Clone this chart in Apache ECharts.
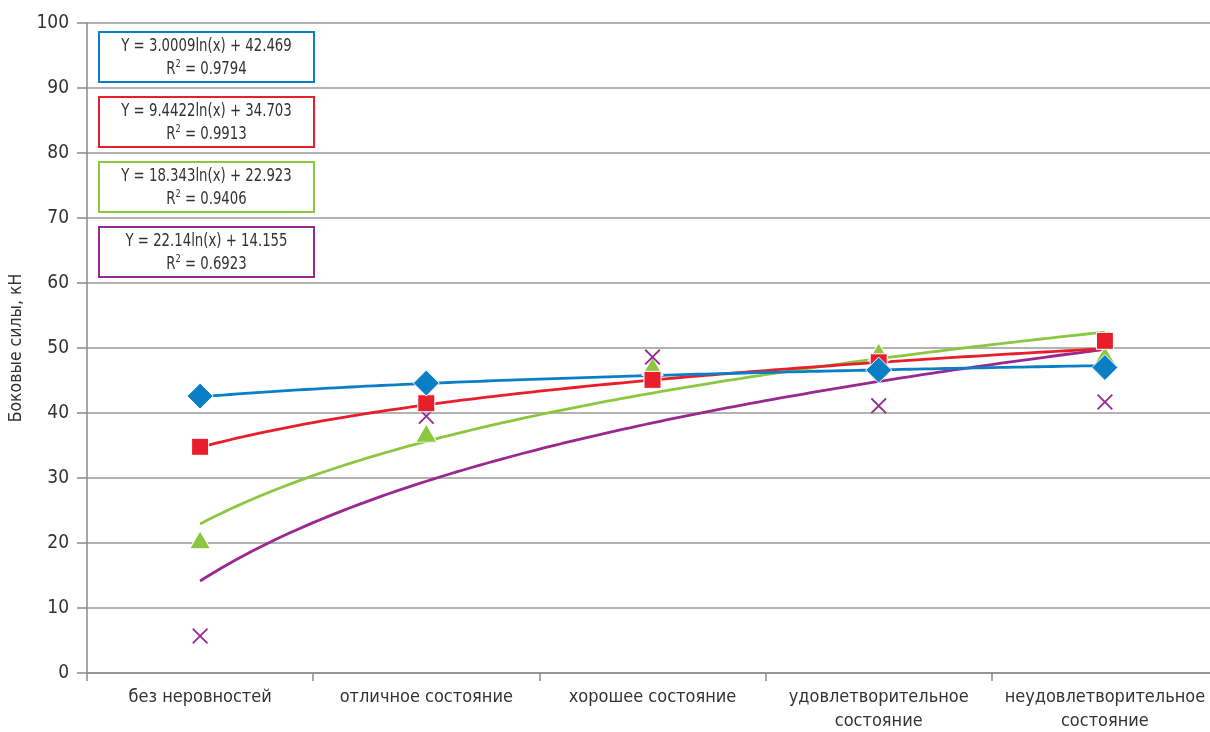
<!DOCTYPE html>
<html>
<head>
<meta charset="utf-8">
<script src="https://cdn.jsdelivr.net/npm/echarts@6/dist/echarts.min.js"></script>
<style>
  html, body { margin: 0; padding: 0; background: #fff; }
  #chart { width: 1210px; height: 732px; }
</style>
</head>
<body>
<div id="chart"></div>
<script>
// Road surface condition categories
const categories = [
  'без неровностей',
  'отличное состояние',
  'хорошее состояние',
  'удовлетворительное\nсостояние',
  'неудовлетворительное\nсостояние'
];

// Lateral forces, kN, for each of the four measured series
const blueValues = [42.6, 44.6, null, 46.6, 47.0];
const redValues = [34.8, 41.5, 45.1, 47.8, 51.1];
const greenValues = [20.5, 36.9, 47.2, 49.4, 48.9];
const purpleValues = [5.7, 39.5, 48.6, 41.1, 41.7];

// Logarithmic trend coefficients: y = a * ln(x) + b
const blueTrend = [3.0009, 42.469];
const redTrend = [9.4422, 34.703];
const greenTrend = [18.343, 22.923];
const purpleTrend = [22.14, 14.155];

// Coefficients of determination
const r2Values = ['0.9794', '0.9913', '0.9406', '0.6923'];

const yTicks = { min: 0, max: 100, interval: 10 };

const COLORS = {
  blue: '#0a7fc6',
  red: '#e81f2a',
  green: '#8dc641',
  purple: '#9a2891'
};
const FONT = '"DejaVu Sans Condensed", "Liberation Sans", sans-serif';

function trendCurve(coef) {
  const pts = [];
  const steps = 120;
  for (let i = 0; i <= steps; i++) {
    const x = 1 + (4 * i) / steps;
    pts.push([x, coef[0] * Math.log(x) + coef[1]]);
  }
  return pts;
}

function points(values) {
  return values.map((v, i) => (v == null ? [i + 1, '-'] : [i + 1, v]));
}

const crossPath = 'path://M0,1.6L1.6,0L10,8.4L18.4,0L20,1.6L11.6,10L20,18.4L18.4,20L10,11.6L1.6,20L0,18.4L8.4,10Z';

function trendSeries(coef, color, z) {
  return {
    type: 'line',
    xAxisIndex: 1,
    data: trendCurve(coef),
    showSymbol: false,
    symbol: 'none',
    lineStyle: { color: color, width: 2.8 },
    z: z,
    silent: true
  };
}

function pointSeries(values, color, symbol, size, z, border) {
  return {
    type: 'scatter',
    xAxisIndex: 1,
    data: points(values),
    symbol: symbol,
    symbolSize: size,
    itemStyle: { color: color, opacity: 1, borderColor: '#fff', borderWidth: border },
    z: z
  };
}

function equationBox(top, coef, r2, color) {
  const line1 = 'Y = ' + coef[0] + 'ln(x) + ' + coef[1];
  return {
    type: 'group',
    left: 98,
    top: top,
    children: [
      {
        type: 'rect',
        shape: { x: 0, y: 0, width: 215, height: 50 },
        style: { fill: '#fff', stroke: color, lineWidth: 2 }
      },
      {
        type: 'text',
        x: 107.5, y: 14,
        scaleX: 0.82,
        style: {
          text: line1, font: '18px ' + FONT, fill: '#333',
          textAlign: 'center', textVerticalAlign: 'middle'
        }
      },
      {
        type: 'text',
        x: 107.5, y: 37,
        scaleX: 0.82,
        style: {
          text: 'R{sup|2} = ' + r2,
          font: '18px ' + FONT, fill: '#333',
          textAlign: 'center', textVerticalAlign: 'middle',
          rich: {
            sup: { fontSize: 11, verticalAlign: 'top', padding: [0, 0, 9, 0], fontFamily: FONT, fill: '#333' }
          }
        }
      }
    ]
  };
}

const chart = echarts.init(document.getElementById('chart'), null, { renderer: 'canvas' });

chart.setOption({
  animation: false,
  backgroundColor: '#fff',
  grid: { left: 87, right: -8, top: 23, bottom: 59, containLabel: false, outerBoundsMode: 'none' },
  xAxis: [
    {
      type: 'category',
      data: categories,
      boundaryGap: true,
      axisLine: { lineStyle: { color: '#8a8a8a', width: 1.5 } },
      axisTick: { show: true, interval: 0, length: 8, alignWithLabel: false, lineStyle: { color: '#8a8a8a', width: 1.5 } },
      axisLabel: { interval: 0, color: '#333', fontSize: 18, fontFamily: FONT, margin: 12, lineHeight: 24 },
      splitLine: { show: false }
    },
    {
      type: 'value',
      min: 0.5,
      max: 5.5,
      show: false
    }
  ],
  yAxis: {
    type: 'value',
    min: yTicks.min,
    max: yTicks.max,
    interval: yTicks.interval,
    name: 'Боковые силы, кН',
    nameLocation: 'middle',
    nameGap: 59,
    nameRotate: 90,
    nameTextStyle: { color: '#333', fontSize: 17.5, fontFamily: FONT },
    axisLine: { show: true, lineStyle: { color: '#8a8a8a', width: 1.5 } },
    axisTick: { show: true, length: 10, lineStyle: { color: '#8a8a8a', width: 1.5 } },
    axisLabel: { color: '#333', fontSize: 19, fontFamily: FONT, margin: 18 },
    splitLine: { lineStyle: { color: '#9a9a9a', width: 1.5 } }
  },
  series: [
    trendSeries(purpleTrend, COLORS.purple, 2),
    trendSeries(greenTrend, COLORS.green, 2),
    trendSeries(redTrend, COLORS.red, 2),
    trendSeries(blueTrend, COLORS.blue, 2),
    pointSeries(greenValues, COLORS.green, 'triangle', [21, 18], 3, 1),
    pointSeries(purpleValues, COLORS.purple, crossPath, 16, 4, 0),
    pointSeries(redValues, COLORS.red, 'rect', 17, 5, 1),
    pointSeries(blueValues, COLORS.blue, 'diamond', [26, 26], 6, 1)
  ],
  graphic: [
    equationBox(31, blueTrend, r2Values[0], COLORS.blue),
    equationBox(96, redTrend, r2Values[1], COLORS.red),
    equationBox(161, greenTrend, r2Values[2], COLORS.green),
    equationBox(226, purpleTrend, r2Values[3], COLORS.purple)
  ]
});
</script>
</body>
</html>
